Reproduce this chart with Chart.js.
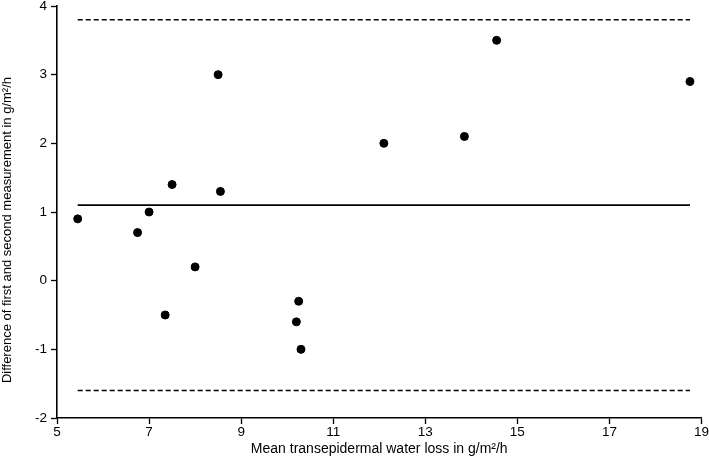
<!DOCTYPE html>
<html>
<head>
<meta charset="utf-8">
<script src="https://cdn.jsdelivr.net/npm/chart.js@4"></script>
<style>
  html, body { margin: 0; padding: 0; background: #fff; }
  #wrap { width: 709px; height: 458px; }
</style>
</head>
<body>
<div id="wrap"><canvas id="blandAltman"></canvas></div>
<script>
// --- Data ---
const meanTEWL = [5.45, 6.75, 7.0, 7.5, 7.35, 8.0, 8.5, 8.55, 10.2, 10.25, 10.3, 12.1, 13.85, 14.55, 18.75];
const diffTEWL = [0.9, 0.7, 1.0, 1.4, -0.5, 0.2, 3.0, 1.3, -0.6, -0.3, -1.0, 2.0, 2.1, 3.5, 2.9];
const meanDiff = 1.1;
const upperLimit = 3.8;
const lowerLimit = -1.6;
const xTicks = [5, 7, 9, 11, 13, 15, 17, 19];
const yTicks = [-2, -1, 0, 1, 2, 3, 4];

const xFrom = Math.min(...meanTEWL);
const xTo = Math.max(...meanTEWL);
const hLine = v => [{ x: xFrom, y: v }, { x: xTo, y: v }];

const FONT = "'Liberation Sans', Arial, Helvetica, sans-serif";
// trailing blanks nudge the rotated title a little toward the bottom, as in the original
const yTitle = 'Difference of first and second measurement in g/m²/h' + ' '.repeat(10);

const ctx = document.getElementById('blandAltman').getContext('2d');
new Chart(ctx, {
    type: 'scatter',
    data: {
        datasets: [
            {
                data: meanTEWL.map((x, i) => ({ x, y: diffTEWL[i] })),
                backgroundColor: '#000',
                borderColor: '#000',
                pointRadius: 4,
                pointHoverRadius: 4
            },
            {
                type: 'line', data: hLine(meanDiff),
                borderColor: '#000', borderWidth: 1.6, pointRadius: 0
            },
            {
                type: 'line', data: hLine(upperLimit),
                borderColor: '#000', borderWidth: 1.6, borderDash: [5, 3], pointRadius: 0
            },
            {
                type: 'line', data: hLine(lowerLimit),
                borderColor: '#000', borderWidth: 1.6, borderDash: [5, 3], pointRadius: 0
            }
        ]
    },
    options: {
        responsive: true,
        maintainAspectRatio: false,
        animation: false,
        layout: { padding: { top: 6, right: 7, left: 0, bottom: 0 } },
        plugins: { legend: { display: false }, tooltip: { enabled: false } },
        scales: {
            x: {
                type: 'linear', min: 5, max: 19,
                afterBuildTicks: s => { s.ticks = xTicks.map(v => ({ value: v })); },
                afterFit: s => { s.height = 40; },
                grid: { drawOnChartArea: false, color: '#000', tickLength: 6, tickWidth: 1.3 },
                border: { color: '#000', width: 1.6 },
                ticks: { color: '#000', font: { family: FONT, size: 13.5 }, padding: 0, maxRotation: 0 },
                title: {
                    display: true, text: 'Mean transepidermal water loss in g/m²/h',
                    color: '#000', font: { family: FONT, size: 14 }, padding: { top: 0, bottom: 0 }
                }
            },
            y: {
                type: 'linear', min: -2, max: 4,
                afterBuildTicks: s => { s.ticks = yTicks.map(v => ({ value: v })); },
                afterFit: s => { s.width = 57; s.paddingTop = 0; s.paddingBottom = 0; },
                grid: { drawOnChartArea: false, color: '#000', tickLength: 6, tickWidth: 1.3 },
                border: { color: '#000', width: 1.6 },
                ticks: { color: '#000', font: { family: FONT, size: 13.5 }, padding: 4 },
                title: {
                    display: true, text: yTitle,
                    color: '#000', font: { family: FONT, size: 13 }, padding: { top: 0, bottom: 4 }
                }
            }
        }
    }
});
</script>
</body>
</html>
